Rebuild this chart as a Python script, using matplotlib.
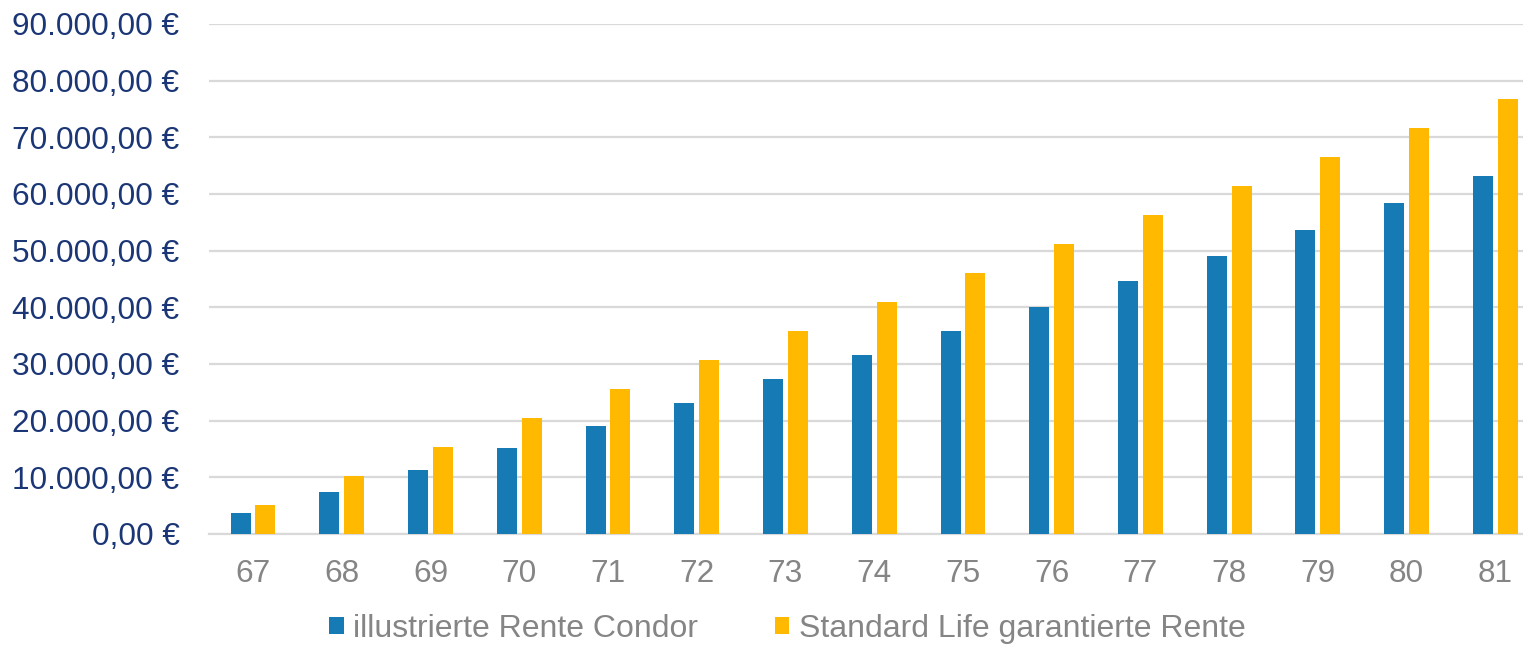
import matplotlib
matplotlib.use("Agg")
from matplotlib import pyplot as plt
from matplotlib.ticker import FuncFormatter
import numpy as np

plt.rcParams['font.family'] = ['Liberation Sans', 'DejaVu Sans']

# data
ages = [67, 68, 69, 70, 71, 72, 73, 74, 75, 76, 77, 78, 79, 80, 81]
condor = [3700, 7400, 11300, 15200, 19100, 23100, 27350, 31600,
          35800, 40050, 44650, 49050, 53650, 58400, 63200]
standard_life = [5100, 10200, 15350, 20450, 25600, 30700, 35800, 40950,
                 46050, 51200, 56300, 61450, 66600, 71700, 76800]
labels = ["illustrierte Rente Condor", "Standard Life garantierte Rente"]

blue = "#167BB5"
yellow = "#FFB900"
navy = "#1B3676"
grey = "#858585"

fig = plt.figure(figsize=(15.23, 6.46), dpi=100)
ax = fig.add_axes([0.137, 0.1734, 0.874, 0.7895])

x = np.arange(len(ages))
w = 0.225
b1 = ax.bar(x - 0.14, condor, w, color=blue, label=labels[0], zorder=3)
b2 = ax.bar(x + 0.14, standard_life, w, color=yellow, label=labels[1], zorder=3)

ax.set_xlim(-0.5, len(ages) - 0.5)
ax.set_ylim(0, 90000)
ax.set_yticks(np.arange(0, 90001, 10000))
ax.yaxis.set_major_formatter(FuncFormatter(
    lambda v, p: f"{v:,.2f} €".replace(",", "X").replace(".", ",").replace("X", ".")))
ax.set_xticks(x)
ax.set_xticklabels([str(a) for a in ages])

ax.grid(axis="y", color="#D9D9D9", linewidth=1.6, zorder=0)
for s in ["top", "right", "left"]:
    ax.spines[s].set_visible(False)
ax.spines["bottom"].set_color("#D9D9D9")
ax.spines["bottom"].set_linewidth(1.6)
ax.tick_params(axis="y", length=0, pad=21, labelsize=22.7, labelcolor=navy)
ax.tick_params(axis="x", length=0, pad=18, labelsize=22.7, labelcolor=grey)

fig.legend(handles=[b1, b2], loc="center", bbox_to_anchor=(0.517, 0.027),
           ncol=2, frameon=False, fontsize=23, labelcolor=grey,
           handlelength=0.45, handleheight=0.45, handletextpad=0.3,
           columnspacing=2.4)

fig.savefig("out.png", dpi=100)
